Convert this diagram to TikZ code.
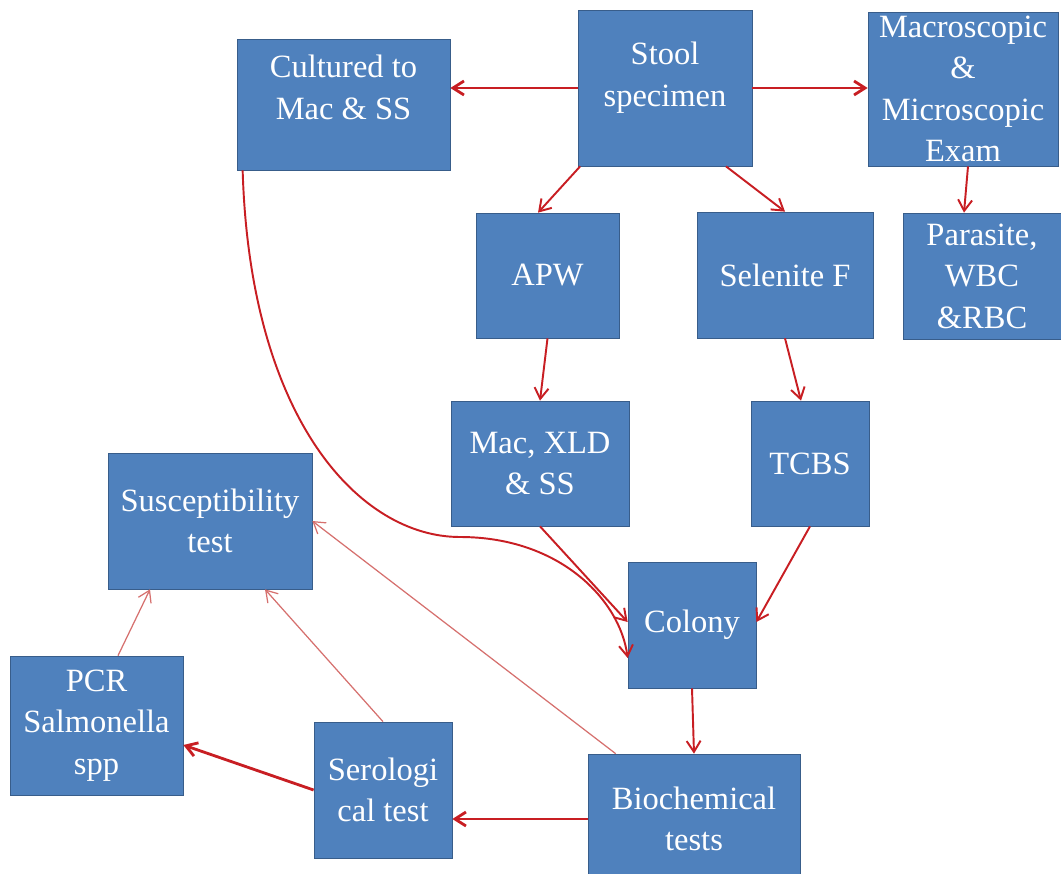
\documentclass[tikz,border=0pt]{standalone}
\usepackage{fontspec}
\setmainfont{LiberationSerif}[Extension=.ttf, UprightFont=*-Regular, BoldFont=*-Bold]
\newfontfamily\boxfont{LiberationSerif}[Extension=.ttf, UprightFont=*-Regular]
\usepackage{tikz}
\usetikzlibrary{arrows.meta}

\definecolor{boxblue}{RGB}{79,129,189}
\definecolor{boxedge}{RGB}{56,93,138}
\definecolor{arrowred}{RGB}{200,30,35}
\definecolor{lightred}{RGB}{214,112,110}

\begin{document}
\begin{tikzpicture}[x=0.2mm, y=-0.2mm,
    box/.style={draw=boxedge, fill=boxblue, text=white, align=center,
        inner sep=0pt, font=\boxfont\fontsize{18.5}{23.6}\selectfont},
    flow/.style={draw=arrowred, line width=1.1pt,
        -{Straight Barb[length=2.2mm, width=2.8mm]}},
    thinflow/.style={draw=lightred, line width=0.7pt,
        -{Straight Barb[length=2.2mm, width=2.8mm]}}]

    % page frame
    \path[use as bounding box, fill=white] (0,0) rectangle (1061,873);
    \clip (0,0) rectangle (1061,873);

    % top row
    \node[box,
    minimum width = 34.8mm,
    minimum height = 31.2mm] (Stool) at (665,88) {Stool\\specimen\\[-8pt]\mbox{}};
    \node[box,
    minimum width = 42.6mm,
    minimum height = 26.2mm] (Cultured) at (343.5,104.5) {Cultured to\\Mac \& SS\\[-4pt]\mbox{}};
    \node[box,
    minimum width = 38mm,
    minimum height = 30.8mm] (MacroExam) at (963,89) {Macroscopic\\\&\\Microscopic\\Exam};

    % enrichment broths
    \node[box,
    minimum width = 28.6mm,
    minimum height = 25mm] (APW) at (547.5,275.5) {APW};
    \node[box,
    minimum width = 35.2mm,
    minimum height = 25.2mm] (Selenite) at (785,275) {Selenite F};
    \node[box,
    minimum width = 31.6mm,
    minimum height = 25.2mm] (Parasite) at (982,276) {Parasite,\\WBC\\\&RBC};

    % plates
    \node[box,
    minimum width = 35.6mm,
    minimum height = 25mm] (MacXLD) at (540,463.5) {Mac, XLD\\\& SS};
    \node[box,
    minimum width = 23.6mm,
    minimum height = 25mm] (TCBS) at (810,463.5) {TCBS};
    \node[box,
    minimum width = 25.6mm,
    minimum height = 25.2mm] (Colony) at (692,625) {Colony};

    % tests
    \node[box,
    minimum width = 40.8mm,
    minimum height = 27.2mm] (Suscept) at (210,521) {Susceptibility\\test};
    \node[box,
    minimum width = 34.6mm,
    minimum height = 27.8mm] (PCR) at (96.5,725.5) {PCR\\Salmonella\\spp};
    \node[box,
    minimum width = 27.6mm,
    minimum height = 27.2mm] (Sero) at (383,790) {Serologi\\cal test};
    \node[box,
    minimum width = 42.4mm,
    minimum height = 26mm] (Biochem) at (694,819) {Biochemical\\tests};

    % drawing connectors
    \draw[flow, line width=1.6pt] (Stool.west) -- (Stool.west -| Cultured.east);
    \draw[flow, line width=1.6pt] (Stool.east) -- (Stool.east -| MacroExam.west);
    \draw[flow] ([xshift=0.5mm]Stool.south west) -- ([xshift=-1.9mm]APW.north);
    \draw[flow] ([xshift=12.2mm]Stool.south) -- (Selenite.north);
    \draw[flow] ([xshift=1mm]MacroExam.south) -- ([xshift=-3.6mm]Parasite.north);
    \draw[flow] (APW.south) -- (MacXLD.north);
    \draw[flow] (Selenite.south) -- ([xshift=-1.8mm]TCBS.north);
    \draw[flow] (MacXLD.south) -- ([yshift=0.6mm]Colony.west);
    \draw[flow] (TCBS.south) -- ([yshift=0.6mm]Colony.east);
    \draw[flow] ([xshift=1.2mm]Cultured.south west)
        .. controls (250,420) and (360,537) .. (460,537)
        .. controls (560,537) and (620,600) .. ([yshift=-6.6mm]Colony.west);
    \draw[flow] (Colony.south) -- (Biochem.north);
    \draw[flow, line width=1.6pt] (Biochem.west) -- (Biochem.west -| Sero.east);
    \draw[flow, line width=1.6pt] (Sero.west) -- ([yshift=-3.9mm]PCR.east);

    % back to susceptibility
    \draw[thinflow] ([xshift=4.3mm]PCR.north) -- ([xshift=-12mm]Suscept.south);
    \draw[thinflow] (Sero.north) -- ([xshift=11mm]Suscept.south);
    \draw[thinflow] ([xshift=5.6mm]Biochem.north west) -- (Suscept.east);

\end{tikzpicture}
\end{document}
